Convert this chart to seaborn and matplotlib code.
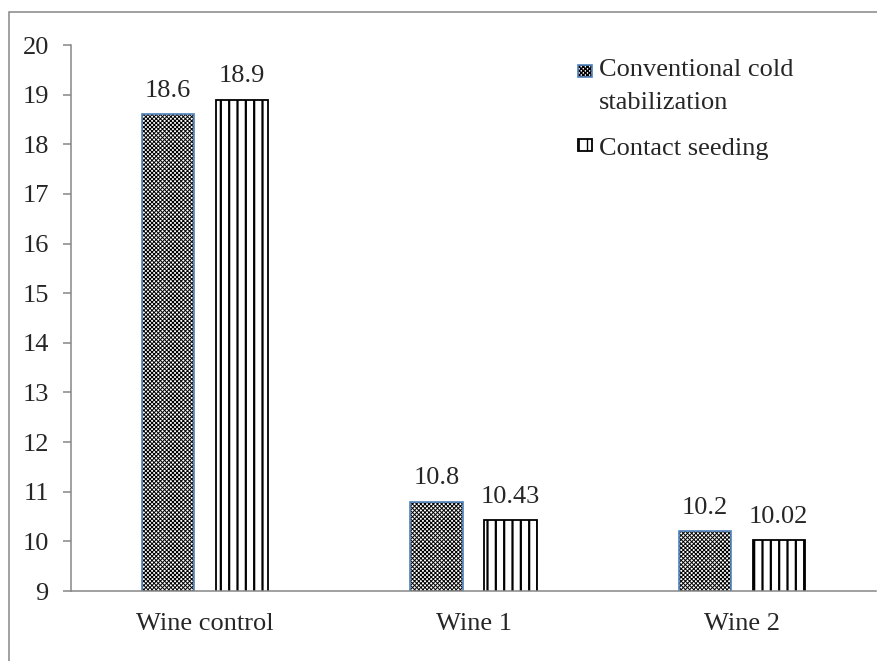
import matplotlib
matplotlib.use('Agg')
import matplotlib.pyplot as plt
import seaborn as sns
import pandas as pd
from matplotlib.patches import Rectangle
from matplotlib.legend_handler import HandlerPatch

# values
categories = ['Wine control', 'Wine 1', 'Wine 2']
conventional = [18.6, 10.8, 10.2]
contact = [18.9, 10.43, 10.02]
series_names = ['Conventional cold\nstabilization', 'Contact seeding']
y_ticks = list(range(9, 21))

df = pd.DataFrame({
    'wine': categories * 2,
    'value': conventional + contact,
    'method': [series_names[0]] * len(categories) + [series_names[1]] * len(categories),
})

sns.set_style('white')
plt.rcParams['font.family'] = ['Liberation Serif', 'DejaVu Serif']
plt.rcParams['hatch.linewidth'] = 1.0

fig = plt.figure(figsize=(8.77, 6.61), dpi=100)
ax = fig.add_axes([71 / 877, 1 - 591 / 661, (876 - 71) / 877, (591 - 45) / 661])

sns.barplot(data=df, x='wine', y='value', hue='method', palette=['white', 'white'],
            saturation=1, width=0.55, gap=0.29, legend=False, ax=ax)

conv_bars, cont_bars = ax.containers
for p in conv_bars:
    p.set_hatch('xxxxxxxx')
    p.set_edgecolor('#4F81BD')
    p.set_linewidth(1.2)
    p._hatch_color = (0, 0, 0, 1)
    if hasattr(p, 'set_hatch_linewidth'):
        p.set_hatch_linewidth(0.7)
for p in cont_bars:
    p.set_hatch('||')
    p.set_edgecolor('black')
    p.set_linewidth(1.3)
    if hasattr(p, 'set_hatch_linewidth'):
        p.set_hatch_linewidth(1.6)

for c in ax.containers:
    ax.bar_label(c, fmt='{:g}', padding=9, fontsize=19)

ax.set_ylim(9, 20)
ax.set_yticks(y_ticks)
ax.set_xlabel('')
ax.set_ylabel('')
sns.despine(ax=ax)
for s in ['left', 'bottom']:
    ax.spines[s].set_color('#868686')
    ax.spines[s].set_linewidth(1.1)
ax.tick_params(axis='y', left=True, length=6, width=1.1, color='#868686', pad=10, labelsize=19)
ax.tick_params(axis='x', bottom=False, length=0, pad=16, labelsize=19)


# legend handle sits on the first line of the label
def shifted(shift):
    def make(legend, orig_handle, xdescent, ydescent, width, height, fontsize):
        return Rectangle((-xdescent, shift), width, 8.6)
    return make


leg = ax.legend(handles=[conv_bars[0], cont_bars[0]], labels=series_names,
                handler_map={conv_bars[0]: HandlerPatch(patch_func=shifted(12.5)),
                             cont_bars[0]: HandlerPatch(patch_func=shifted(3))},
                loc='upper left', bbox_to_anchor=(578 / 877, 1 - 58.5 / 661),
                bbox_transform=fig.transFigure, frameon=False, fontsize=19,
                borderpad=0, borderaxespad=0, handlelength=0.53, handleheight=0.5,
                handletextpad=0.25, labelspacing=0.9)
for t in leg.get_texts():
    t.set_linespacing(1.68)

# outer chart frame
fig.add_artist(Rectangle((9 / 877, -0.1), 1.2, 1 - 12 / 661 + 0.1, transform=fig.transFigure,
                         fill=False, edgecolor='#868686', lw=1.1))

fig.savefig('out.png', dpi=100)
